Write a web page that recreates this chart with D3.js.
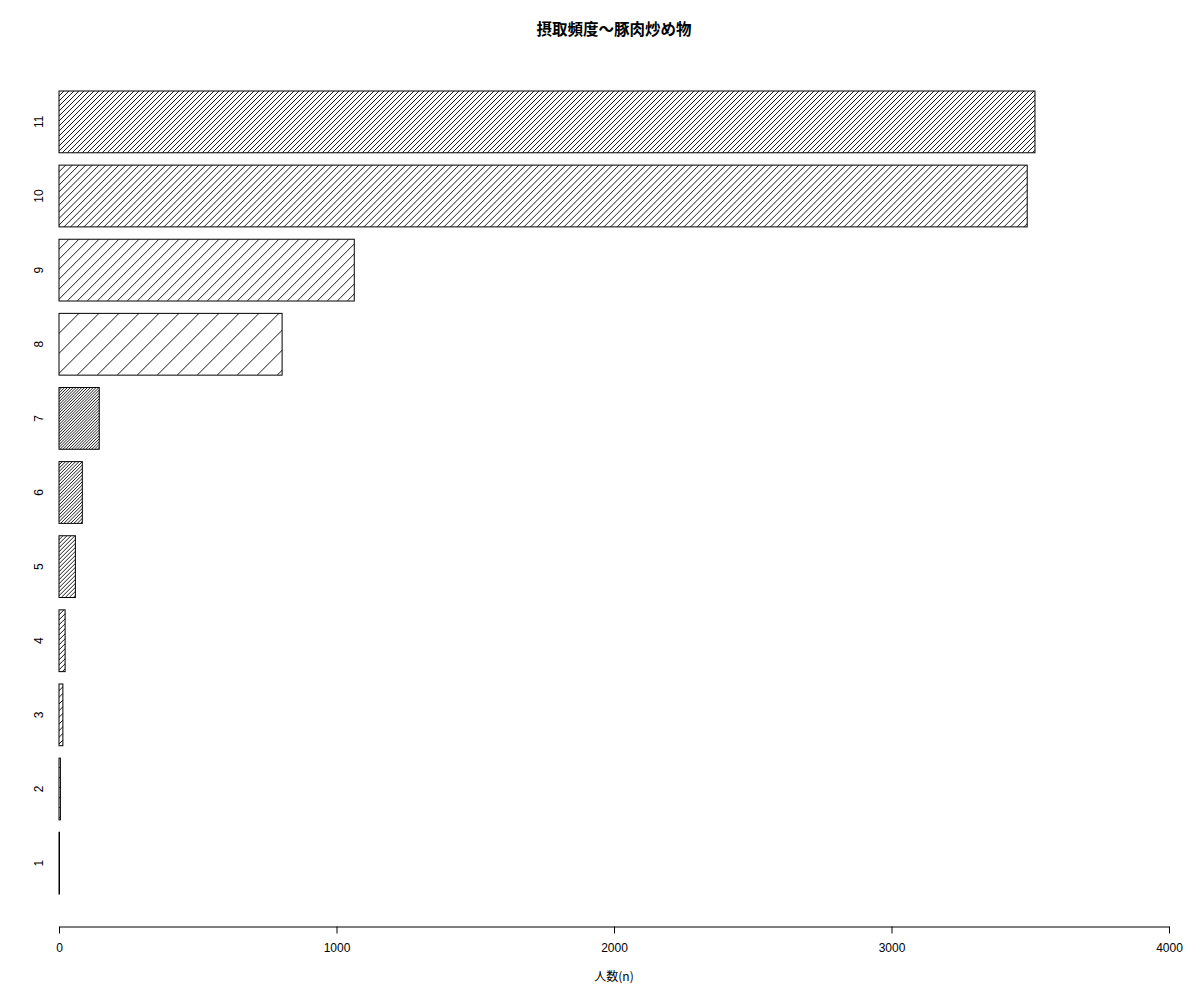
<!DOCTYPE html>
<html>
<head>
<meta charset="utf-8">
<script src="https://cdn.jsdelivr.net/npm/d3@7/dist/d3.min.js"></script>
<style>
  body { margin: 0; background: #fff; }
  text { font-family: "Liberation Sans", Arial, sans-serif; }
</style>
</head>
<body>
<script>
// DATA ––––––––––––––––––––––––––––––––––––––––––––––––––––––––––––––

  var categories = ["1", "2", "3", "4", "5", "6", "7", "8", "9", "10", "11"];
  var counts = [1, 5, 14, 22, 59, 84, 145, 804, 1064, 3489, 3517];
  var xTicks = [0, 1000, 2000, 3000, 4000];
  var titleText = "摂取頻度～豚肉炒め物";
  var xLabel = "人数(n)";

  // hatch density per bar (R recycles 1:7), 1 unit = 20px horizontal gap
  var densities = [1, 2, 3, 4, 5, 6, 7, 1, 2, 3, 4];

// CHART –––––––––––––––––––––––––––––––––––––––––––––––––––––––––––––

  var drawChart = function() {
    let width = 1200,
        height = 1000;

    let svg = d3.select("body").append("svg")
      .attr("width", width)
      .attr("height", height);

    let x = d3.scaleLinear()
      .domain([0, 4000])
      .range([59, 1169]);

    // top bar (11) first
    let y = d3.scaleBand()
      .domain(categories.slice().reverse())
      .range([91, 894])
      .paddingInner(0.2 / 1.2)
      .paddingOuter(0);

    let defs = svg.append("defs");

    categories.forEach(function(cat, i) {
      let x0 = x(0),
          x1 = x(counts[i]),
          y0 = y(cat),
          h = y.bandwidth(),
          gap = 20 / densities[i];

      defs.append("clipPath")
        .attr("id", "clip" + i)
        .append("rect")
        .attr("x", x0)
        .attr("y", y0)
        .attr("width", x1 - x0)
        .attr("height", h);

      let g = svg.append("g").attr("clip-path", "url(#clip" + i + ")");

      let starts = [];
      for (let s = x0 - h; s < x1; s += gap) starts.push(s);

      g.selectAll("line")
        .data(starts)
        .enter().append("line")
        .attr("x1", function(s) { return s; })
        .attr("y1", y0 + h)
        .attr("x2", function(s) { return s + h; })
        .attr("y2", y0)
        .attr("stroke", "#000")
        .attr("stroke-width", 0.9);

      svg.append("rect")
        .attr("x", x0)
        .attr("y", y0)
        .attr("width", Math.max(x1 - x0, 0.5))
        .attr("height", h)
        .attr("fill", "none")
        .attr("stroke", "#000")
        .attr("stroke-width", 1);
    });

    // category labels (rotated, R style)
    svg.selectAll(".ylab")
      .data(categories)
      .enter().append("text")
      .attr("class", "ylab")
      .attr("transform", function(d) {
        return "translate(43," + (y(d) + y.bandwidth() / 2) + ") rotate(-90)";
      })
      .attr("text-anchor", "middle")
      .attr("font-size", 12)
      .attr("fill", "#000")
      .text(function(d) { return d; });

    // x axis
    let axis = svg.append("g")
      .attr("transform", "translate(0,926.5)")
      .call(d3.axisBottom(x).tickValues(xTicks).tickSize(7).tickSizeOuter(0).tickPadding(10)
        .tickFormat(d3.format("d")));
    axis.selectAll("text").attr("font-size", 12).attr("fill", "#000")
      .style("font-family", "'Liberation Sans', Arial, sans-serif");
    axis.selectAll("line, path").attr("stroke", "#000");

    svg.append("text")
      .attr("x", 614)
      .attr("y", 981)
      .attr("text-anchor", "middle")
      .attr("font-size", 12)
      .style("font-family", "'Noto Sans CJK JP', 'Liberation Sans', sans-serif")
      .text(xLabel);

    svg.append("text")
      .attr("x", 614)
      .attr("y", 35)
      .attr("text-anchor", "middle")
      .attr("font-size", 15.5)
      .attr("font-weight", "bold")
      .style("font-family", "'Noto Sans CJK JP', sans-serif")
      .text(titleText);
  };

// RUN –––––––––––––––––––––––––––––––––––––––––––––––––––––––––––––––

drawChart();
</script>
</body>
</html>
